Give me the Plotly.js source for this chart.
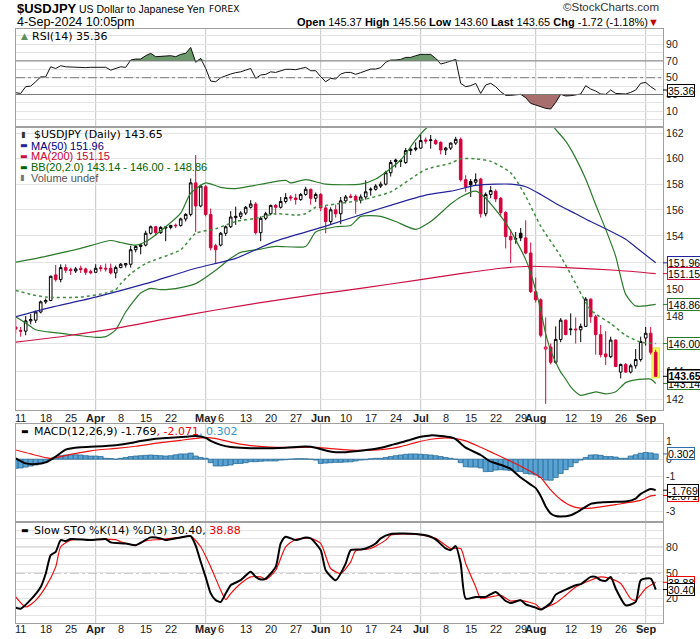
<!DOCTYPE html>
<html><head><meta charset="utf-8">
<script src="https://cdn.plot.ly/plotly-3.0.1.min.js"></script>
<style>html,body{margin:0;padding:0;background:#fff;overflow:hidden}#chart{width:700px;height:639px}</style>
</head><body><div id="chart"></div>
<script>
// ---------- categories (trading days) ----------
const startDate = '2024-03-08', endDate = '2024-09-04';
const dates = [];
for (let d = new Date(startDate + 'T00:00:00Z'); d <= new Date(endDate + 'T00:00:00Z'); d.setUTCDate(d.getUTCDate() + 1)) {
  const wd = d.getUTCDay(); if (wd !== 0 && wd !== 6) dates.push(d.toISOString().slice(0, 10));
}
const tickDates = ['2024-03-11','2024-03-18','2024-03-25','2024-04-01','2024-04-08','2024-04-15','2024-04-22','2024-05-01','2024-05-06','2024-05-13','2024-05-20','2024-05-27','2024-06-03','2024-06-10','2024-06-17','2024-06-24','2024-07-01','2024-07-08','2024-07-15','2024-07-22','2024-07-29','2024-08-01','2024-08-12','2024-08-19','2024-08-26','2024-09-02'];
const tickLabels = ['11','18','25','<b>Apr</b>','8','15','22','<b>May</b>','6','13','20','27','<b>Jun</b>','10','17','24','<b>Jul</b>','8','15','22','29','<b>Aug</b>','12','19','26','<b>Sep</b>'];
const monthStarts = ['2024-04-01','2024-05-01','2024-06-03','2024-07-01','2024-08-01','2024-09-02'];

// ---------- price (OHLC) ----------
const priorClose = 147.85;
const open = [147.20,146.95,146.90,147.65,147.70,148.30,149.05,149.15,151.05,150.70,
151.60,151.45,151.35,151.55,151.50,151.30,151.25,151.60,151.55,151.55,
151.20,151.60,151.80,151.85,152.95,153.20,153.30,154.20,154.70,154.25,
154.60,154.65,154.82,154.80,155.30,155.65,158.10,156.30,157.80,155.65,
153.25,153.30,154.20,154.70,155.40,155.50,155.75,156.20,156.45,154.25,
155.35,155.70,156.35,156.20,156.65,157.00,156.92,156.80,157.20,157.60,
156.90,157.20,156.15,155.10,156.00,155.70,156.70,157.05,157.05,156.75,
157.00,157.55,157.60,157.85,158.00,158.90,159.90,159.80,159.70,160.65,
160.75,160.85,161.50,161.45,161.45,161.30,160.70,160.85,161.25,161.55,
158.35,158.20,158.15,158.40,155.70,157.20,157.45,156.90,155.80,153.95,
153.75,154.20,153.85,152.70,149.80,149.20,145.60,145.75,144.65,146.30,
147.70,147.00,147.05,147.00,147.25,149.25,147.95,146.65,145.25,145.05,
146.25,143.95,144.50,143.95,144.40,144.85,146.40,146.75,145.37];
const high = [147.80,147.20,148.00,148.15,148.40,149.15,149.30,151.00,151.80,151.85,
151.85,151.60,151.65,151.75,151.60,151.45,151.85,151.80,151.90,151.90,
151.75,151.95,151.95,153.25,153.30,153.40,154.40,154.80,154.75,154.75,
154.70,154.85,154.95,155.40,155.75,158.45,160.30,157.95,157.95,156.10,
153.40,154.30,154.80,155.90,156.25,155.90,156.30,156.75,156.60,155.50,
155.85,156.40,156.45,157.00,157.30,157.15,157.25,157.30,157.80,157.65,
157.35,157.30,156.30,156.20,156.40,157.00,157.15,157.25,157.20,157.20,
158.30,157.75,158.00,158.20,159.05,159.90,160.00,159.95,160.85,160.90,
161.30,161.95,161.70,161.90,161.60,161.40,160.95,161.30,161.75,161.70,
158.70,158.40,158.85,158.50,157.35,157.85,157.60,157.00,155.90,154.50,
154.30,154.60,155.20,153.50,150.85,149.30,147.90,146.00,147.25,147.85,
147.75,148.20,147.90,147.45,149.40,149.30,148.10,147.35,146.90,146.50,
146.30,144.55,144.60,144.55,145.60,146.50,147.20,147.20,145.56];
const low = [146.70,146.50,146.60,147.40,147.50,148.20,148.90,149.10,150.55,150.50,
151.20,151.05,151.20,151.20,151.05,151.10,151.20,151.30,151.30,151.10,
150.80,151.55,151.60,151.60,152.75,152.60,153.20,154.10,154.00,154.15,
153.60,154.50,154.60,154.70,155.10,155.50,154.30,156.20,155.50,152.90,
151.90,153.20,154.00,154.60,154.85,155.30,155.60,156.10,154.10,153.60,
155.20,155.60,155.60,156.10,156.50,156.70,156.40,156.70,157.10,156.40,
156.60,155.90,154.20,154.90,155.40,154.90,156.50,156.90,155.70,156.50,
156.80,157.10,157.50,157.70,157.90,158.60,159.30,159.35,159.60,160.30,
160.60,160.80,161.20,160.80,161.10,160.35,160.30,160.70,161.10,158.20,
157.40,157.00,157.90,155.40,155.50,156.90,156.60,155.50,153.05,151.95,
153.40,153.60,152.60,149.70,149.00,146.45,141.70,144.50,144.55,146.10,
146.60,146.60,146.00,146.10,147.20,147.50,145.20,145.00,144.45,144.95,
144.30,143.50,143.90,143.85,144.20,144.70,145.85,145.20,143.60];
const close = [147.05,146.90,147.65,147.75,148.30,149.05,149.15,150.95,150.70,151.60,
151.40,151.38,151.50,151.45,151.25,151.22,151.55,151.53,151.50,151.20,
151.60,151.85,151.90,152.95,153.20,153.30,154.20,154.70,154.25,154.65,
154.68,154.80,154.78,155.30,155.65,158.10,156.30,157.85,155.65,153.10,
152.95,154.20,154.70,155.45,155.50,155.75,156.20,156.45,154.25,155.35,
155.70,156.35,156.20,156.65,156.95,156.92,156.80,157.20,157.60,156.90,
157.20,156.15,155.10,156.00,155.70,156.70,157.00,156.98,156.75,157.00,
157.40,157.60,157.85,158.00,158.90,159.70,159.80,159.85,160.65,160.75,
160.85,161.45,161.42,161.50,161.20,160.70,160.85,161.25,161.55,158.35,
157.80,157.95,158.35,155.70,157.20,157.50,156.85,155.80,153.95,153.70,
153.80,153.85,152.70,149.80,149.20,146.60,145.75,144.65,146.30,147.70,
146.65,147.05,147.00,147.25,149.25,147.95,146.65,145.20,145.05,146.25,
144.35,144.50,143.95,144.40,144.85,146.15,146.75,145.37,143.65];

// ---------- overlays (read at sample days) ----------
const ma50Idx = [0,6,16,26,36,44,52,62,72,82,87,92,96,99,102,105,108,112,115,118,122,125,128];
const ma50Val = [147.95,148.55,149.4,150.4,151.55,152.3,153.6,154.75,156.0,157.15,157.45,157.9,158.0,158.0,157.8,157.2,156.5,155.7,155.1,154.55,153.75,152.85,151.96];
const ma200Idx = [0,10,20,30,40,50,60,70,80,90,97,103,110,120,128];
const ma200Val = [146.1,146.55,147.1,147.8,148.45,149.05,149.6,150.1,150.65,151.2,151.55,151.7,151.6,151.4,151.15];
const bbuIdx = [0,6,13,19,21,24,26,30,33,35,38,41,44,47,54,55,58,62,69,72,77,80,82,84,88,93,98,102,105,107,108,110,112,114,116,118,120,121,122,124,128];
const bbuVal = [152.0,152.45,153.05,153.65,153.5,153.3,153.55,154.7,155.75,157.3,158.1,157.75,157.65,157.85,158.3,158.1,158.35,158.0,158.0,158.4,159.9,161.5,162.4,162.9,163.4,163.8,164.3,164.5,164.0,162.9,162.35,161.4,160.05,158.4,156.4,154.5,152.45,150.9,149.6,148.75,148.86];
const bbmIdx = [0,3,6,13,18,20,21,23,26,33,36,40,44,48,52,56,58,60,64,69,75,82,87,89,92,95,99,102,105,109,112,115,119,122,125,128];
const bbmVal = [149.9,149.6,149.4,149.4,149.7,149.95,150.4,151.15,151.9,152.95,154.2,154.55,155.1,155.35,155.7,155.6,155.7,156.2,156.45,156.75,157.4,159.15,159.65,160.0,160.0,159.8,158.9,157.05,154.75,152.45,150.4,148.45,147.45,146.6,146.1,146.0];
const bblIdx = [0,2,4,10,16,18,20,22,25,27,29,33,36,40,43,45,49,52,58,60,64,67,69,73,76,80,83,87,89,92,94,96,98,100,102,103,104,105,106,107,108,109,110,111,113,116,118,120,122,124,127,128];
const bblVal = [147.95,147.5,147.0,146.7,146.45,146.5,147.0,148.3,149.7,150.05,149.95,150.1,150.4,151.4,152.3,152.75,153.0,153.2,153.2,154.3,154.7,154.8,155.5,155.5,155.1,154.5,155.1,156.45,157.0,157.45,156.9,156.0,155.0,153.7,152.2,151.2,149.9,148.45,146.7,145.5,144.65,143.95,143.45,142.9,142.3,142.55,142.4,142.55,143.2,143.4,143.45,143.14];

// ---------- RSI(14) ----------
const rsi = [32.1,31.3,39.3,40.0,45.2,51.0,51.0,63.0,61.0,64.3,
63.0,62.6,63.0,62.0,62.0,62.4,62.4,62.4,62.4,59.0,
61.0,63.0,62.3,71.0,72.2,72.2,76.2,79.0,75.0,75.8,
75.8,76.2,75.0,77.8,79.0,86.0,68.3,73.0,61.0,46.0,
45.2,50.0,52.4,54.4,56.0,57.0,59.0,61.0,49.2,53.2,
54.0,57.0,56.3,58.3,60.0,60.0,59.5,61.0,62.3,58.3,
58.3,51.2,45.2,49.2,48.4,54.4,56.3,56.3,54.0,56.0,
58.0,60.3,60.3,62.0,68.3,71.0,71.0,71.8,74.2,74.2,
76.2,77.8,77.8,77.8,73.0,66.3,67.9,70.2,71.8,43.3,
39.3,40.5,43.3,31.3,41.3,43.3,39.3,33.3,29.0,29.0,
29.5,30.2,26.2,19.4,17.5,15.5,13.5,12.7,20.6,30.2,
28.2,28.6,29.4,30.6,40.5,36.5,34.1,30.6,30.2,35.3,
31.3,31.3,30.6,32.5,35.3,43.3,44.4,39.3,35.36];

// ---------- MACD(12,26,9) ----------
const macdIdx = [0,2,4,6,8,10,13,16,20,23,25,28,31,34,36,38,39,41,43,46,50,54,58,60,62,64,66,68,71,73,75,77,79,81,83,85,87,88,90,93,95,97,99,101,103,104,105,106,107,108,109,111,113,115,117,120,122,124,125,127,128];
const macdVal = [0.05,-0.24,-0.28,-0.18,0.15,0.55,0.68,0.72,0.80,0.92,1.04,1.17,1.22,1.28,1.32,1.22,1.05,0.82,0.70,0.64,0.62,0.66,0.72,0.66,0.50,0.40,0.40,0.45,0.55,0.65,0.80,0.95,1.12,1.28,1.36,1.33,1.25,1.15,0.66,0.24,-0.14,-0.32,-0.55,-1.05,-1.45,-1.65,-2.1,-2.7,-3.1,-3.25,-3.28,-3.2,-2.9,-2.55,-2.47,-2.43,-2.42,-2.25,-1.98,-1.70,-1.769];
const sigIdx = [0,3,7,11,15,20,24,29,33,37,39,41,43,46,50,55,60,63,67,71,74,77,80,83,86,88,90,93,95,97,99,101,103,105,106,107,108,109,110,111,112,113,115,117,120,122,125,127,128];
const sigVal = [0.53,0.30,0.05,0.28,0.48,0.62,0.74,0.95,1.08,1.22,1.22,1.12,0.98,0.82,0.70,0.66,0.68,0.60,0.52,0.52,0.58,0.72,0.95,1.14,1.22,1.18,1.05,0.68,0.42,0.15,-0.12,-0.40,-0.70,-1.05,-1.40,-1.75,-2.05,-2.30,-2.50,-2.65,-2.75,-2.80,-2.80,-2.72,-2.60,-2.50,-2.35,-2.10,-2.071];
const hist = [-0.52,-0.50,-0.45,-0.39,-0.33,-0.25,-0.15,-0.02,0.10,0.20,
0.24,0.25,0.25,0.24,0.20,0.18,0.18,0.15,0.05,0.04,
0.00,0.05,0.10,0.15,0.18,0.20,0.22,0.24,0.22,0.20,
0.18,0.20,0.25,0.30,0.30,0.35,0.18,0.10,0.05,-0.20,
-0.39,-0.39,-0.37,-0.33,-0.25,-0.24,-0.20,-0.14,-0.14,-0.12,
-0.10,-0.10,-0.10,-0.05,-0.03,0.00,0.02,0.03,0.02,0.00,
-0.05,-0.24,-0.22,-0.20,-0.18,-0.18,-0.16,-0.15,-0.10,-0.05,
-0.03,0.02,0.05,0.05,0.10,0.15,0.20,0.24,0.28,0.30,
0.30,0.28,0.26,0.24,0.20,0.15,0.10,0.05,0.00,-0.20,
-0.43,-0.45,-0.45,-0.50,-0.71,-0.70,-0.62,-0.60,-0.62,-0.65,
-0.71,-0.70,-0.81,-0.85,-0.90,-1.04,-1.19,-1.20,-1.04,-0.81,
-0.60,-0.43,-0.20,-0.05,0.10,0.24,0.25,0.22,0.15,0.15,
0.12,0.05,0.05,0.18,0.25,0.34,0.38,0.36,0.302];

// ---------- Slow STO %K(14) %D(3) ----------
const kIdx = [0,1,3,5,6,7,8,9,10,11,15,18,19,22,24,25,27,29,30,33,35,36,37,38,39,40,41,42,43,45,47,48,49,50,52,53,54,56,58,59,61,62,64,66,67,69,70,72,73,75,80,83,84,86,87,88,89,90,92,94,96,98,99,101,102,104,105,107,108,110,112,113,115,116,117,118,119,120,122,124,125,127,128];
const kVal = [9.2,8,18.6,33.5,49,70.8,74.7,88.4,87.3,89.6,88.4,89.6,85.7,84.5,82.5,85.3,91.6,90.4,88.4,91.6,93.1,82,63,45,26,18,15.9,25.7,35.5,41.4,51.2,45.3,42.2,43.3,57,84.5,92.4,88.4,91.6,90.4,76.7,53.1,41.4,61,76.7,77.5,78.6,84.5,90.4,95.5,95.5,92.4,89.2,78.6,76.7,81.4,61,19.8,21.8,21.8,27.6,17,14.7,17.8,13.1,9.2,6.9,14.7,24.5,30.4,35.5,36.7,45.3,45.3,41.4,40.6,45.3,31.6,12,15.9,41.4,43.3,30.4];
const dIdx = [0,2,4,6,8,9,11,15,20,21,24,26,29,33,35,37,39,41,42,43,45,47,49,50,52,54,56,59,61,63,65,67,68,71,74,75,80,84,87,89,90,92,93,95,97,99,101,104,105,108,110,112,115,117,119,121,123,124,126,128];
const dVal = [21.8,10,17.8,33.5,57,80.6,88.4,89,89,86.5,82.5,87.6,89.2,91.6,93.1,80.6,57,29.6,18.6,25.7,37.5,45.3,45.3,42.2,53.1,80.6,89.2,90.4,84.5,55.1,49.2,62.9,75.9,78.6,88.4,94.3,95.5,90.4,78.6,78.6,61,33.5,19.8,21.8,23.7,17,17.8,13.1,8,14.7,23.7,33.5,41.4,45.3,43.3,37.5,19.8,17.8,31.6,38.88];

// ---------- build ----------
const N = dates.length, L = N - 1;
const RED = '#d2063c', NAVY = '#23239a', CRIM = '#cc1144', GREEN = '#2b7a2b';
const SANS = "'Liberation Sans',Arial,sans-serif";
const VERD = "'DejaVu Sans',Verdana,sans-serif";
const X = idx => idx.map(i => dates[i]);

const blackIdx = [], redIdx = [];
close.forEach((c, i) => { const p = i === 0 ? priorClose : close[i - 1]; (c >= p ? blackIdx : redIdx).push(i); });
function candles(idx, col) {
  return {type: 'candlestick', xaxis: 'x', yaxis: 'y2', x: X(idx),
    open: idx.map(i => open[i]), high: idx.map(i => high[i]), low: idx.map(i => low[i]), close: idx.map(i => close[i]),
    increasing: {line: {color: col, width: 1}, fillcolor: '#ffffff'},
    decreasing: {line: {color: col, width: 1}, fillcolor: col},
    whiskerwidth: 0, hoverinfo: 'skip', showlegend: false};
}
function line(x, y, color, width, xa, ya, extra) {
  return Object.assign({type: 'scatter', mode: 'lines', x, y, xaxis: xa, yaxis: ya,
    line: {color, width, shape: 'spline', smoothing: 0.6}, hoverinfo: 'skip', showlegend: false}, extra || {});
}

const traces = [];
traces.push(line(dates, rsi.map(() => 70), 'rgba(0,0,0,0)', 0, 'x2', 'y', {line: {width: 0}}));
traces.push(line(dates, rsi.map(v => Math.max(v, 70)), 'rgba(0,0,0,0)', 0, 'x2', 'y', {line: {width: 0}, fill: 'tonexty', fillcolor: '#6d9a6d'}));
traces.push(line(dates, rsi.map(() => 30), 'rgba(0,0,0,0)', 0, 'x2', 'y', {line: {width: 0}}));
traces.push(line(dates, rsi.map(v => Math.min(v, 30)), 'rgba(0,0,0,0)', 0, 'x2', 'y', {line: {width: 0}, fill: 'tonexty', fillcolor: '#a86e6e'}));
traces.push(line(dates, rsi, '#111', 1, 'x2', 'y', {line: {color: '#111', width: 1}}));
// highlight behind the latest candle (bar layer sits under the candlestick layer)
traces.push({type: 'bar', x: [dates[L]], base: [low[L] - 0.07], y: [(high[L] + 0.13) - (low[L] - 0.07)], width: [1.5],
  xaxis: 'x', yaxis: 'y2', marker: {color: '#ffff55', line: {color: '#e2e24a', width: 1}}, hoverinfo: 'skip', showlegend: false});
traces.push(candles(blackIdx, '#000000'));
traces.push(candles(redIdx, RED));
traces.push(line(X(bbmIdx), bbmVal, '#3f8f3f', 1.5, 'x', 'y2', {line: {color: '#3f8f3f', width: 1.5, dash: 'dot', shape: 'spline', smoothing: 0.6}}));
traces.push(line(X(bbuIdx), bbuVal, GREEN, 1.2, 'x', 'y2'));
traces.push(line(X(bblIdx), bblVal, GREEN, 1.2, 'x', 'y2'));
traces.push(line(X(ma200Idx), ma200Val, CRIM, 1.2, 'x', 'y2'));
traces.push(line(X(ma50Idx), ma50Val, NAVY, 1.2, 'x', 'y2'));
traces.push({type: 'bar', x: dates, y: hist, xaxis: 'x3', yaxis: 'y3', marker: {color: '#58a3d3', line: {color: '#2a6c98', width: 0.8}}, hoverinfo: 'skip', showlegend: false});
traces.push(line(X(sigIdx), sigVal, '#ee1111', 1.2, 'x3', 'y3'));
traces.push(line(X(macdIdx), macdVal, '#000', 2, 'x3', 'y3'));
traces.push(line(X(dIdx), dVal, '#ee1111', 1.2, 'x4', 'y4'));
traces.push(line(X(kIdx), kVal, '#000', 2, 'x4', 'y4'));

const P = y => (623 - y) / 594;       // pixel row -> paper y
const PX = x => (x - 16) / 647;        // pixel col -> paper x
const dom = {rsi: [P(127), 1], main: [P(410.3), P(127)], macd: [P(521.7), P(424)], sto: [0, P(521.7)]};
function xax(anchor) {
  return {type: 'category', categoryorder: 'array', categoryarray: dates, range: [0.06, 129.46], autorange: false,
    anchor, showgrid: false, zeroline: false, showline: true, mirror: true, linecolor: '#a0a0a0', linewidth: 1,
    ticks: '', showticklabels: false, fixedrange: true, rangeslider: {visible: false}};
}
function yax(domain, anchor, range, tv, tt, type) {
  return {domain, anchor, side: 'right', range, type: type || 'linear', tickmode: 'array', tickvals: tv, ticktext: tt,
    showgrid: true, gridcolor: '#e3e3e3', gridwidth: 1, zeroline: false, showline: true, mirror: true,
    linecolor: '#a0a0a0', linewidth: 1, ticks: '', tickfont: {family: SANS, size: 10.5, color: '#222'}, fixedrange: true};
}
const rsiTV = [0,10,20,30,40,50,60,70,80,90,100];
const rsiTT = ['','10','','30','','50','','70','','90',''];
const priceTV = [142,144,146,148,150,152,154,156,158,160,162];
const stoTT = ['','','20','','','50','','','80','',''];

const shapes = [];
[['x2', dom.rsi], ['x', dom.main], ['x3', dom.macd], ['x4', dom.sto]].forEach(([xa, dm]) => monthStarts.forEach(m => shapes.push(
  {type: 'line', xref: xa, yref: 'paper', x0: m, x1: m, y0: dm[0], y1: dm[1], line: {color: '#c6c6c6', width: 1}, layer: 'below'})));
[[70, 'solid'], [30, 'solid'], [50, 'dashdot']].forEach(([v, d]) => shapes.push(
  {type: 'line', xref: 'paper', yref: 'y', x0: 0, x1: 1, y0: v, y1: v, line: {color: '#7a7a7a', width: 1, dash: d}, layer: 'above'}));
[[80, 'solid'], [20, 'solid'], [50, 'dashdot']].forEach(([v, d]) => shapes.push(
  {type: 'line', xref: 'paper', yref: 'y4', x0: 0, x1: 1, y0: v, y1: v, line: {color: '#7a7a7a', width: 1, dash: d}, layer: 'below'}));

const ann = [];
function txt(x, y, text, family, size, color, anchor) {
  ann.push({xref: 'paper', yref: 'paper', x: PX(x), y: P(y), xanchor: anchor || 'left', yanchor: 'middle', text, showarrow: false,
    font: {family, size, color: color || '#000'}});
}
function tag(ya, v, text, border, bold) {
  ann.push({xref: 'paper', x: 1, yref: ya, y: v, xanchor: 'left', yanchor: 'middle', text: bold ? '<b>' + text + '</b>' : text,
    showarrow: true, arrowhead: 0, arrowwidth: 1, arrowcolor: border, ax: 4, ay: 0, standoff: 0,
    font: {family: SANS, size: 10.5, color: '#000'}, bgcolor: '#ffffff', bordercolor: border, borderwidth: bold ? 1.5 : 1, borderpad: 0, height: 11});
}
// x-axis date labels, placed through each axis' category scale
tickDates.forEach((d, k) => ['x', 'x4'].forEach((xa, j) => ann.push({xref: xa, yref: 'paper', x: d, y: P(j ? 629 : 418),
  xanchor: 'center', yanchor: 'middle', text: tickLabels[k], showarrow: false, font: {family: SANS, size: 11, color: '#222'}})));
const f2 = v => v.toFixed(2), f3 = v => v.toFixed(3);
// header
txt(15, 8.5, '<b>$USDJPY</b>', SANS, 13);
txt(77, 9, 'US Dollar to Japanese Yen', SANS, 10.5);
txt(207, 9.5, 'FOREX', VERD, 9);
txt(15, 21.5, '4-Sep-2024 10:05pm', SANS, 12.5);
txt(661, 7, '\u00a9StockCharts.com', SANS, 11.5, '#333', 'right');
const chg = close[L] - close[L - 1];
txt(661, 21.5, '<b>Open</b> ' + f2(open[L]) + ' <b>High</b> ' + f2(high[L]) + ' <b>Low</b> ' + f2(low[L]) + ' <b>Last</b> ' + f2(close[L]) +
  ' <b>Chg</b> ' + f2(chg) + ' (' + f2(chg / close[L - 1] * 100) + '%)<span style="color:#c00000">\u25bc</span>', SANS, 11, '#000', 'right');
// panel legends
txt(19, 36, '\u25b2', VERD, 9, '#5e8e5e');
txt(30, 36, 'RSI(14) ' + f2(rsi[L]), VERD, 11);
txt(19, 134, '\u25ae', VERD, 8, '#333');
txt(32, 134, '$USDJPY (Daily) ' + f2(close[L]), VERD, 11);
txt(18, 145.5, '\u25ac', VERD, 8, NAVY);
txt(29, 145.5, 'MA(50) ' + f2(ma50Val[ma50Val.length - 1]), SANS, 11, '#000080');
txt(18, 156.3, '\u25ac', VERD, 8, CRIM);
txt(29, 156.3, 'MA(200) ' + f2(ma200Val[ma200Val.length - 1]), SANS, 11, '#cc0033');
txt(18, 167.3, '\u25ac', VERD, 8, '#006400');
txt(29, 167.3, 'BB(20,2.0) ' + f2(bblVal[bblVal.length - 1]) + ' - ' + f2(bbmVal[bbmVal.length - 1]) + ' - ' + f2(bbuVal[bbuVal.length - 1]), SANS, 11, '#006400');
txt(18, 177.5, '\u25ae', VERD, 8, '#777');
txt(29, 177.5, 'Volume undef', SANS, 11, '#555');
txt(19, 431.7, '\u25ac', VERD, 8, '#000');
txt(32, 431.7, 'MACD(12,26,9) ' + f3(macdVal[macdVal.length - 1]) + '<span style="color:#ee0000">, ' + f3(sigVal[sigVal.length - 1]) +
  '</span><span style="color:#2f95cc">, ' + f3(hist[L]) + '</span>', VERD, 11);
txt(19, 530, '\u25ac', VERD, 8, '#000');
txt(32, 530, 'Slow STO %K(14) %D(3) ' + f2(kVal[kVal.length - 1]) + ',<span style="color:#ee0000"> ' + f2(dVal[dVal.length - 1]) + '</span>', VERD, 11);
// right-edge value tags
tag('y', rsi[L], f2(rsi[L]), '#000');
tag('y2', Math.log10(ma50Val[ma50Val.length - 1]), f2(ma50Val[ma50Val.length - 1]), NAVY);
tag('y2', Math.log10(ma200Val[ma200Val.length - 1]), f2(ma200Val[ma200Val.length - 1]), CRIM);
tag('y2', Math.log10(bbuVal[bbuVal.length - 1]), f2(bbuVal[bbuVal.length - 1]), GREEN);
tag('y2', Math.log10(bbmVal[bbmVal.length - 1]), f2(bbmVal[bbmVal.length - 1]), GREEN);
tag('y2', Math.log10(bblVal[bblVal.length - 1]), f2(bblVal[bblVal.length - 1]), GREEN);
tag('y2', Math.log10(close[L]), f2(close[L]), '#000', true);
tag('y3', hist[L], f3(hist[L]), '#2f6fb0');
tag('y3', sigVal[sigVal.length - 1], f3(sigVal[sigVal.length - 1]), '#ee0000');
tag('y3', macdVal[macdVal.length - 1], f3(macdVal[macdVal.length - 1]), '#000');
tag('y4', dVal[dVal.length - 1], f2(dVal[dVal.length - 1]), '#ee0000');
tag('y4', kVal[kVal.length - 1], f2(kVal[kVal.length - 1]), '#000');

const layout = {
  width: 700, height: 639, autosize: false, margin: {l: 16, r: 37, t: 29, b: 16, pad: 0},
  paper_bgcolor: '#ffffff', plot_bgcolor: 'rgba(0,0,0,0)', showlegend: false, boxgap: 0.25, bargap: 0, barmode: 'overlay',
  xaxis: xax('y2'), xaxis2: xax('y'), xaxis3: xax('y3'), xaxis4: xax('y4'),
  yaxis: yax(dom.rsi, 'x2', [-8.7, 108], rsiTV, rsiTT),
  yaxis2: yax(dom.main, 'x', [Math.log10(141.25), Math.log10(162.54)], priceTV, priceTV.map(String), 'log'),
  yaxis3: yax(dom.macd, 'x3', [-3.571, 2.011], [-3, -2, -1, 0, 1], ['-3', '', '-1', '0', '1']),
  yaxis4: yax(dom.sto, 'x4', [-8.8, 110], rsiTV, stoTT),
  shapes, annotations: ann
};
Plotly.newPlot('chart', traces, layout, {displayModeBar: false, staticPlot: true});
</script></body></html>
